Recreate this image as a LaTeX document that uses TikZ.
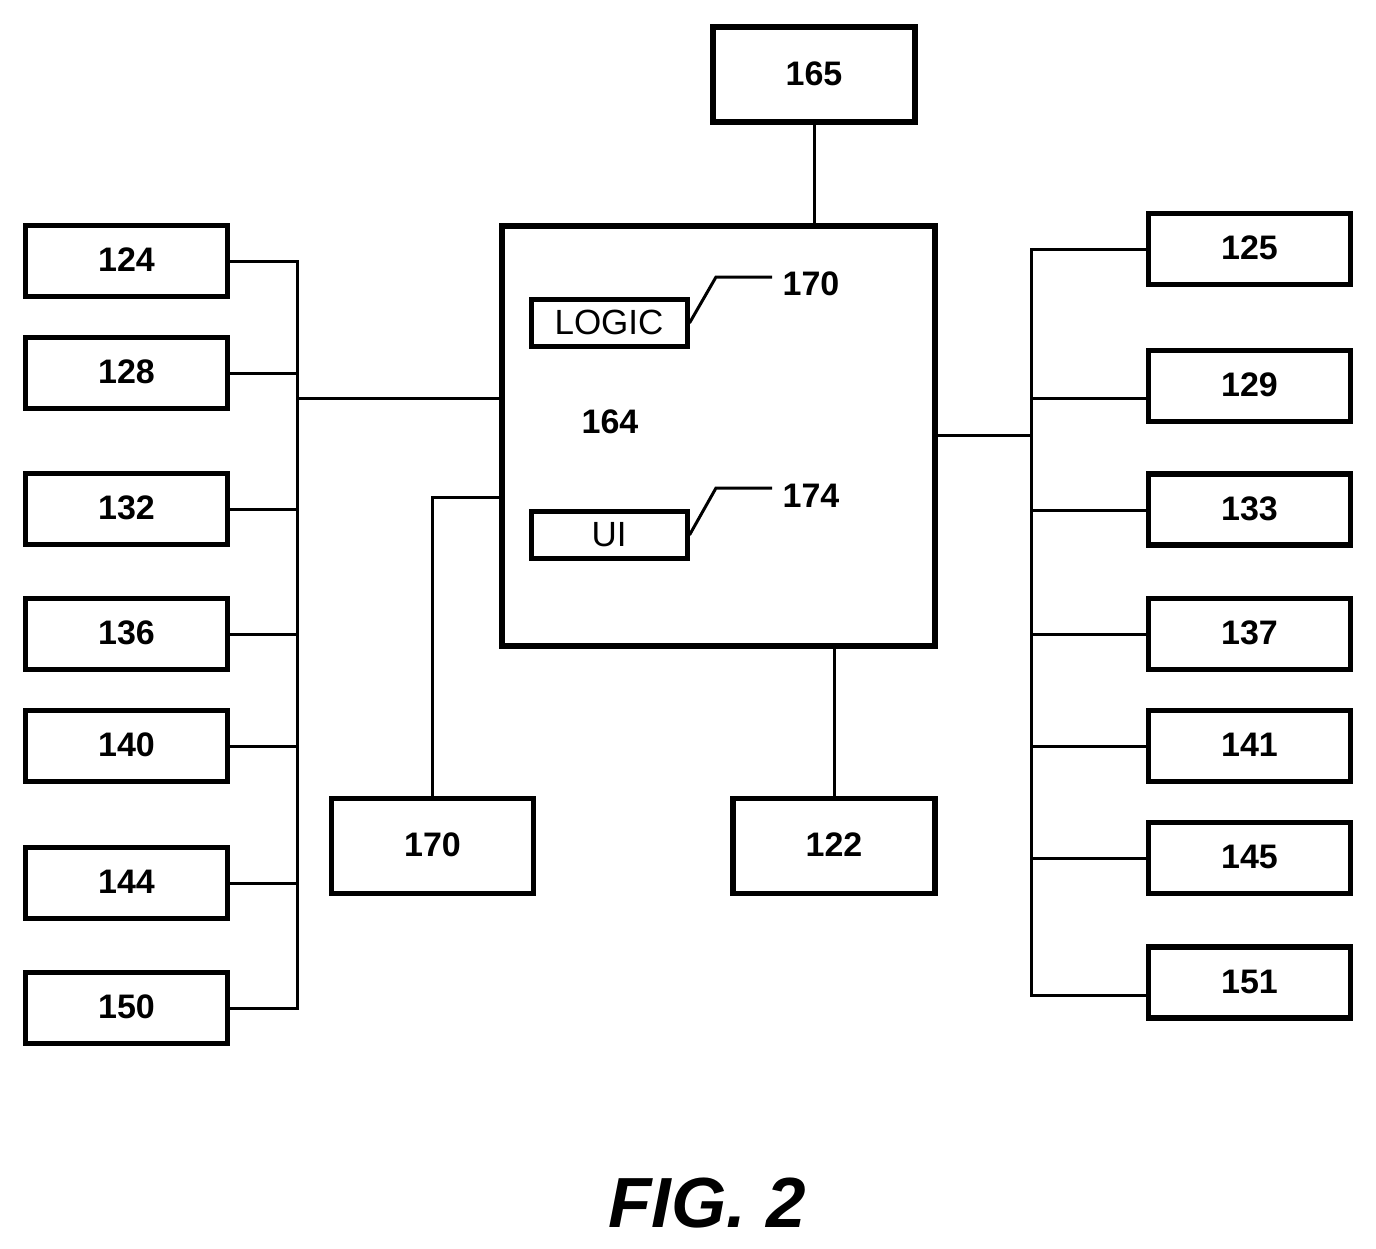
\documentclass[tikz,border=0pt]{standalone}
\usepackage{fontspec}
\setmainfont{Liberation Sans}
\usetikzlibrary{calc}
\definecolor{ink}{HTML}{000000}
\tikzset{
  box/.style={draw=ink, line width=5.5pt, minimum width=202pt, minimum height=71pt, inner sep=0pt, text depth=2pt, font=\fontsize{34}{36}\selectfont\bfseries, text=ink},
  bigbox/.style={box, minimum height=95pt},
  inbox/.style={box, line width=5pt, minimum width=156pt, minimum height=47pt, font=\fontsize{35}{37}\selectfont},
  num/.style={font=\fontsize{34}{36}\selectfont\bfseries, text=ink, inner sep=0pt},
  link/.style={draw=ink, line width=3pt},
  lead/.style={draw=ink, line width=3pt}
}
\begin{document}
\begin{tikzpicture}[x=1pt,y=-1pt]
  \useasboundingbox (0,0) rectangle (1376,1248);

  % centre block
  \node[draw=ink, line width=6pt, minimum width=433pt, minimum height=420pt, inner sep=0pt] (main) at (718.5,436) {};
  \node[num] (n164) at (610,422) {164};
  \node[inbox] (logic) at (609,323) {LOGIC};
  \node[inbox] (ui) at (609,535) {UI};
  \node[num] (n170) at (811,284) {170};
  \node[num] (n174) at (811,496) {174};
  \coordinate (bend170) at (716,277);
  \coordinate (bend174) at (716,488);
  \coordinate (end170) at (772,277);
  \coordinate (end174) at (772,488);
  \draw[lead] (logic.east) -- (bend170) -- (end170);
  \draw[lead] (ui.east) -- (bend174) -- (end174);

  % top and bottom boxes
  \node[bigbox] (b165) at (814,74.5) {165};
  \node[bigbox] (b170) at (432.5,846) {170};
  \node[bigbox] (b122) at (834,846) {122};
  \draw[link] (b165.south) -- (b165.south |- main.north);
  \draw[link] (b122.north) -- (b122.north |- main.south);
  \coordinate (in170) at (main.west |- 0,497);
  \draw[link] (b170.north) |- (in170);

  % left column
  \foreach \name/\y in {124/261,128/373,132/509,136/634,140/746,144/883,150/1008}{
    \node[box] (b\name) at (126.5,\y) {\name};
    \coordinate (bus\name) at (297,\y);
    \draw[link] (b\name.east) -- (bus\name);
  }
  \draw[link, line cap=rect] (bus124) -- (bus150);
  \coordinate (busl) at (297,398);
  \draw[link] (busl) -- (main.west |- busl);

  % right column
  \foreach \name/\y in {125/249,129/386,133/509.5,137/634,141/746,145/858,151/982.5}{
    \node[box] (b\name) at (1249.5,\y) {\name};
  }
  \foreach \name/\y in {125/249,129/398,133/510,137/634,141/746,145/858,151/995}{
    \coordinate (bus\name) at (1031,\y);
    \draw[link] (bus\name) -- (b\name.west |- bus\name);
  }
  \draw[link, line cap=rect] (bus125) -- (bus151);
  \coordinate (busr) at (1031,435);
  \draw[link] (main.east |- busr) -- (busr);

  \node[text=ink, inner sep=0pt, font=\fontsize{71}{73}\selectfont\bfseries\itshape] (fig) at (707,1203) {FIG. 2};
\end{tikzpicture}
\end{document}
